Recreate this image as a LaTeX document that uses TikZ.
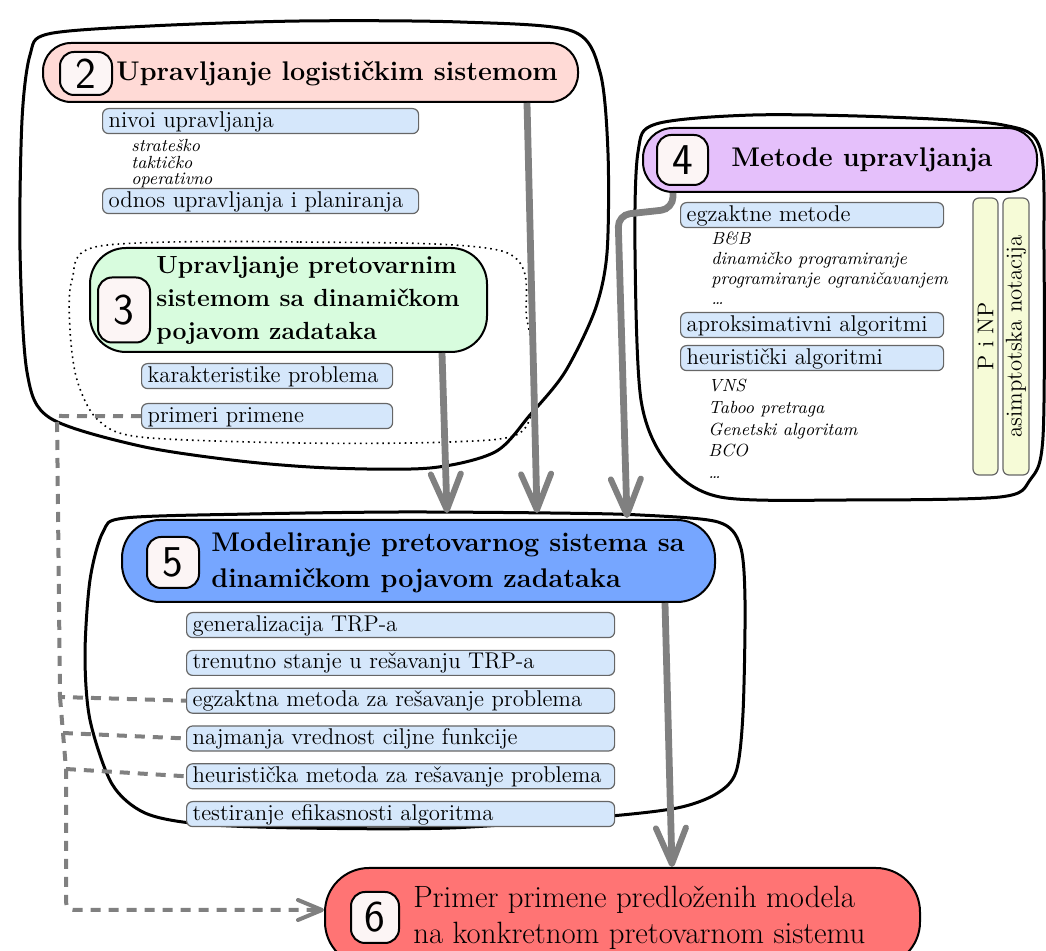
\documentclass[tikz,border=0pt]{standalone}
\usepackage{tikz}
\usetikzlibrary{arrows.meta, positioning}
\definecolor{hdrpink}{HTML}{FFDAD6}
\definecolor{hdrgreen}{HTML}{D8FCDE}
\definecolor{hdrpurple}{HTML}{E5C0FB}
\definecolor{hdrblue}{HTML}{76A6FF}
\definecolor{hdrred}{HTML}{FF7474}
\definecolor{itemblue}{HTML}{D5E7FB}
\definecolor{itemyellow}{HTML}{F6FBD7}
\definecolor{numfill}{HTML}{FCF5F5}
\definecolor{linkgray}{HTML}{808080}
\tikzset{
	hdr/.style={draw=black, line width=1pt, rounded corners=#1, inner sep=0pt},
	hdr/.default=14pt,
	numbox/.style={draw=black, line width=1pt, rounded corners=7pt, fill=numfill,
		inner sep=0pt, font=\fontsize{22}{22}\selectfont\sffamily},
	hdrtext/.style={inner sep=0pt, align=left, font=\fontsize{13.5}{16.5}\selectfont\bfseries},
	item/.style={draw=black!60, line width=0.6pt, rounded corners=3pt, fill=itemblue,
		inner xsep=3pt, inner ysep=0.75pt, text width=#1, text height=8.5pt, text depth=2.5pt,
		align=left, font=\fontsize{11.4}{12}\selectfont},
	item/.default=150pt,
	sublist/.style={inner sep=0pt, align=left, font=\fontsize{8.8}{#1}\selectfont\itshape},
	sublist/.default=8pt,
	vbox/.style={draw=black!60, line width=0.6pt, rounded corners=3pt, fill=itemyellow,
		rotate=90, minimum width=138.5pt, minimum height=12.5pt, inner sep=0pt,
		font=\fontsize{11.4}{12}\selectfont},
	blob/.style={draw=black, line width=1.5pt},
	link/.style={draw=linkgray, line width=3.4pt,
		-{Straight Barb[length=18pt,width=15pt,line width=3pt,round]}},
	dlink/.style={draw=linkgray, line width=2pt, dash pattern=on 5pt off 4pt},
}
\begin{document}
\begin{tikzpicture}[x=0.5pt, y=-0.5pt]
\useasboundingbox (0,0) rectangle (1046,951);

% outlines of the groups
\draw[blob] plot[smooth cycle] coordinates {(48,34) (150,26) (300,21) (460,22) (572,31) (600,72)
	(608,153) (607,253) (595,310) (565,372) (530,415) (495,452) (430,468) (330,468) (240,461)
	(140,446) (50,418) (27,372) (20,250) (22,120) (30,55)};
\draw[black, line width=0.8pt, dotted] plot[smooth cycle] coordinates {(100,246) (300,242) (505,252)
	(527,320) (535,387) (520,433) (450,442) (300,443) (140,437) (97,419) (77,380) (70,330) (72,280)};
\draw[blob] plot[smooth cycle] coordinates {(656,124) (753,115) (887,117) (1003,125) (1040,148)
	(1044,250) (1043,437) (1030,480) (1000,497) (850,500) (720,497) (668,464) (641,400) (635,250)
	(638,152)};
\draw[blob] plot[smooth cycle] coordinates {(125,518) (250,514) (400,512) (550,513) (640,515)
	(718,522) (740,545) (745,600) (743,713) (736,772) (716,794) (677,808) (600,817) (450,828)
	(300,828) (200,824) (145,813) (112,784) (90,720) (85,655) (90,580) (103,532)};

% 2
\node[hdr=14pt, fill=hdrpink, minimum width=267.5pt, minimum height=29.5pt] (h2) at (310.5,72.5) {};
\node[numbox, minimum width=26pt, minimum height=21.5pt] (n2) at (86,73.5) {2};
\node[hdrtext, right=1.5pt of n2] (t2) {Upravljanje logističkim sistemom};
\node[item=152pt, anchor=north west] (a1) at (102,108) {nivoi upravljanja};
\node[sublist=8.2pt, anchor=north west] (a1s) at (131,139) {strateško\\taktičko\\operativno};
\node[item=152pt, anchor=north west] (a2) at (102,188) {odnos upravljanja i planiranja};

% 3
\node[hdr=18pt, fill=hdrgreen, minimum width=198.5pt, minimum height=52pt] (h3) at (288.5,300) {};
\node[numbox, minimum width=26pt, minimum height=32.5pt] (n3) at (124,310) {3};
\node[hdrtext, right=2.5pt of n3, yshift=5pt, font=\fontsize{12.4}{16.5}\selectfont\bfseries] (t3) {Upravljanje pretovarnim\\sistemom sa dinamičkom\\pojavom zadataka};
\node[item=119.5pt, anchor=north west] (k1) at (141,363) {karakteristike problema};
\node[item=119.5pt, anchor=north west] (k2) at (141,403) {primeri primene};

% 4
\node[hdr=15pt, fill=hdrpurple, minimum width=197pt, minimum height=32pt] (h4) at (840,160) {};
\node[numbox, minimum width=25.5pt, minimum height=25pt] (n4) at (682.5,160) {4};
\node[hdrtext, right=11pt of n4] (t4) {Metode upravljanja};
\node[item=125.5pt, anchor=north west] (m1) at (680,202) {egzaktne metode};
\node[sublist=10pt, anchor=north west] (m1s) at (711,232) {B\&B\\dinamičko programiranje\\programiranje ograničavanjem\\\dots};
\node[item=125.5pt, anchor=north west] (m2) at (680,312) {aproksimativni algoritmi};
\node[item=125.5pt, anchor=north west] (m3) at (680,345) {heuristički algoritmi};
\node[sublist=10.8pt, anchor=north west] (m3s) at (708,379) {VNS\\Taboo pretraga\\Genetski algoritam\\BCO\\\dots};
\node[vbox] (pnp) at (985.5,336.5) {P i NP};
\node[vbox, minimum height=13pt] (asim) at (1016,336.5) {asimptotska notacija};

% 5
\node[hdr=19pt, fill=hdrblue, minimum width=296.5pt, minimum height=41pt] (h5) at (418.5,561) {};
\node[numbox, minimum width=26pt, minimum height=25.5pt] (n5) at (173,562.5) {5};
\node[hdrtext, right=5.5pt of n5, font=\fontsize{13.5}{18}\selectfont\bfseries] (t5) {Modeliranje pretovarnog sistema sa\\dinamičkom pojavom zadataka};
\node[item=208pt, anchor=north west] (b1) at (186,612) {generalizacija TRP-a};
\node[item=208pt, below=5.8pt of b1] (b2) {trenutno stanje u rešavanju TRP-a};
\node[item=208pt, below=5.8pt of b2] (b3) {egzaktna metoda za rešavanje problema};
\node[item=208pt, below=5.8pt of b3] (b4) {najmanja vrednost ciljne funkcije};
\node[item=208pt, below=5.8pt of b4] (b5) {heuristička metoda za rešavanje problema};
\node[item=208pt, below=5.8pt of b5] (b6) {testiranje efikasnosti algoritma};

% 6
\node[hdr=22pt, fill=hdrred, minimum width=297.5pt, minimum height=49pt] (h6) at (622.5,917) {};
\node[numbox, minimum width=24pt, minimum height=25.5pt] (n6) at (375,917.5) {6};
\node[hdrtext, right=6.5pt of n6, font=\fontsize{15.4}{18}\selectfont] (t6) {Primer primene predloženih modela\\na konkretnom pretovarnom sistemu};

% links
\coordinate (in3) at (447,513);
\coordinate (in2) at (537,513);
\coordinate (in4) at (627,518);
\draw[link] ([xshift=108.25pt]h2.south) -- (in2);
\draw[link] ([xshift=76.75pt]h3.south) -- (in3);
\draw[link, rounded corners=6pt] ([xshift=-83.5pt]h4.south) -- ++(0,16) -- ++(-55,6) -- (in4);
\draw[link] ([xshift=123.25pt]h5.south) -- ([xshift=24.75pt]h6.north);

\coordinate (d1) at (57,416);
\coordinate (d2) at (60,697);
\coordinate (d3) at (63,733);
\coordinate (d4) at (66,769);
\coordinate (d5) at (66,910);
\draw[dlink] (k2.west) -- (d1) -- (d2) -- (b3.west);
\draw[dlink] (d2) -- (d3) -- (b4.west);
\draw[dlink] (d3) -- (d4) -- (b5.west);
\draw[dlink, rounded corners=4pt, -{Straight Barb[length=12pt,width=10pt,line width=2pt,round]}]
	(d4) -- (d5) -- (d5 -| h6.west);
\end{tikzpicture}
\end{document}
